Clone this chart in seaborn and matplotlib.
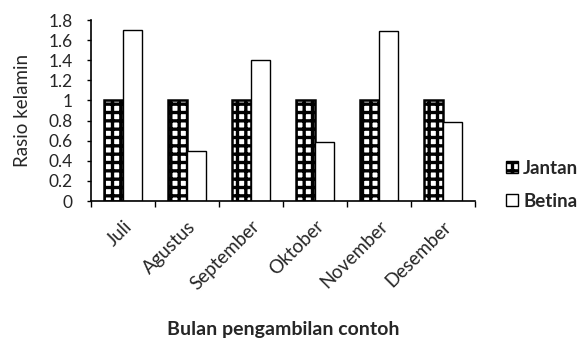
import matplotlib
matplotlib.use("Agg")
import matplotlib.pyplot as plt
from matplotlib.patches import Patch
import pandas as pd
import seaborn as sns

months = ["Juli", "Agustus", "September", "Oktober", "November", "Desember"]
jantan = [1, 1, 1, 1, 1, 1]
betina = [1.7, 0.5, 1.4, 0.59, 1.69, 0.79]
y_ticks = [0, 0.2, 0.4, 0.6, 0.8, 1, 1.2, 1.4, 1.6, 1.8]
y_tick_labels = ["0", "0.2", "0.4", "0.6", "0.8", "1", "1.2", "1.4", "1.6", "1.8"]

df = pd.DataFrame({
    "Bulan": months * 2,
    "Rasio": jantan + betina,
    "Jenis": ["Jantan"] * len(months) + ["Betina"] * len(months),
})

sns.set_theme(style="ticks")
plt.rcParams["font.family"] = ["Lato", "DejaVu Sans"]
plt.rcParams["hatch.linewidth"] = 2.4
plt.rcParams["hatch.color"] = "black"

fig = plt.figure(figsize=(5.79, 3.39), dpi=100)
ax = fig.add_axes([0.157, 0.407, 0.663, 0.534])

sns.barplot(data=df, x="Bulan", y="Rasio", hue="Jenis", order=months,
            hue_order=["Jantan", "Betina"], width=0.6, palette=["white", "white"],
            edgecolor="black", linewidth=1.0, legend=False, ax=ax)

n = len(months)
for i, bar in enumerate(ax.patches[:2 * n]):
    if i < n:
        bar.set_hatch("++")
        bar.set_linewidth(1.8)

ax.set_ylim(0, 1.8)
ax.set_xlim(-0.5, n - 0.5)
ax.set_yticks(y_ticks)
ax.set_yticklabels(y_tick_labels, fontsize=12.5)
ax.set_xticks(range(n))
ax.set_xticklabels(months, rotation=45, ha="right", rotation_mode="anchor", fontsize=13.5)
ax.tick_params(axis="x", length=0, pad=12)
ax.tick_params(axis="y", length=3, width=1, color="black", pad=10)
# boundary ticks between month groups
ax.set_xticks([i - 0.5 for i in range(n + 1)], minor=True)
ax.tick_params(axis="x", which="minor", length=4, width=1, color="black", direction="out")

for s in ["top", "right"]:
    ax.spines[s].set_visible(False)
for s in ["left", "bottom"]:
    ax.spines[s].set_color("black")
    ax.spines[s].set_linewidth(1.2)

ax.set_ylabel("Rasio kelamin", fontsize=13.5, labelpad=13)
ax.set_xlabel("")
fig.text(0.49, 0.027, "Bulan pengambilan contoh", ha="center", va="center",
         fontsize=14, fontweight="bold")

handles = [Patch(facecolor="white", edgecolor="black", hatch="++", label="Jantan"),
           Patch(facecolor="white", edgecolor="black", label="Betina")]
fig.legend(handles=handles, loc="center left", bbox_to_anchor=(0.874, 0.455),
           frameon=False, handlelength=0.62, handleheight=0.62,
           handletextpad=0.3, labelspacing=0.85, borderpad=0, borderaxespad=0,
           prop={"weight": "bold", "size": 13.5})

fig.savefig("out.png", dpi=100)
